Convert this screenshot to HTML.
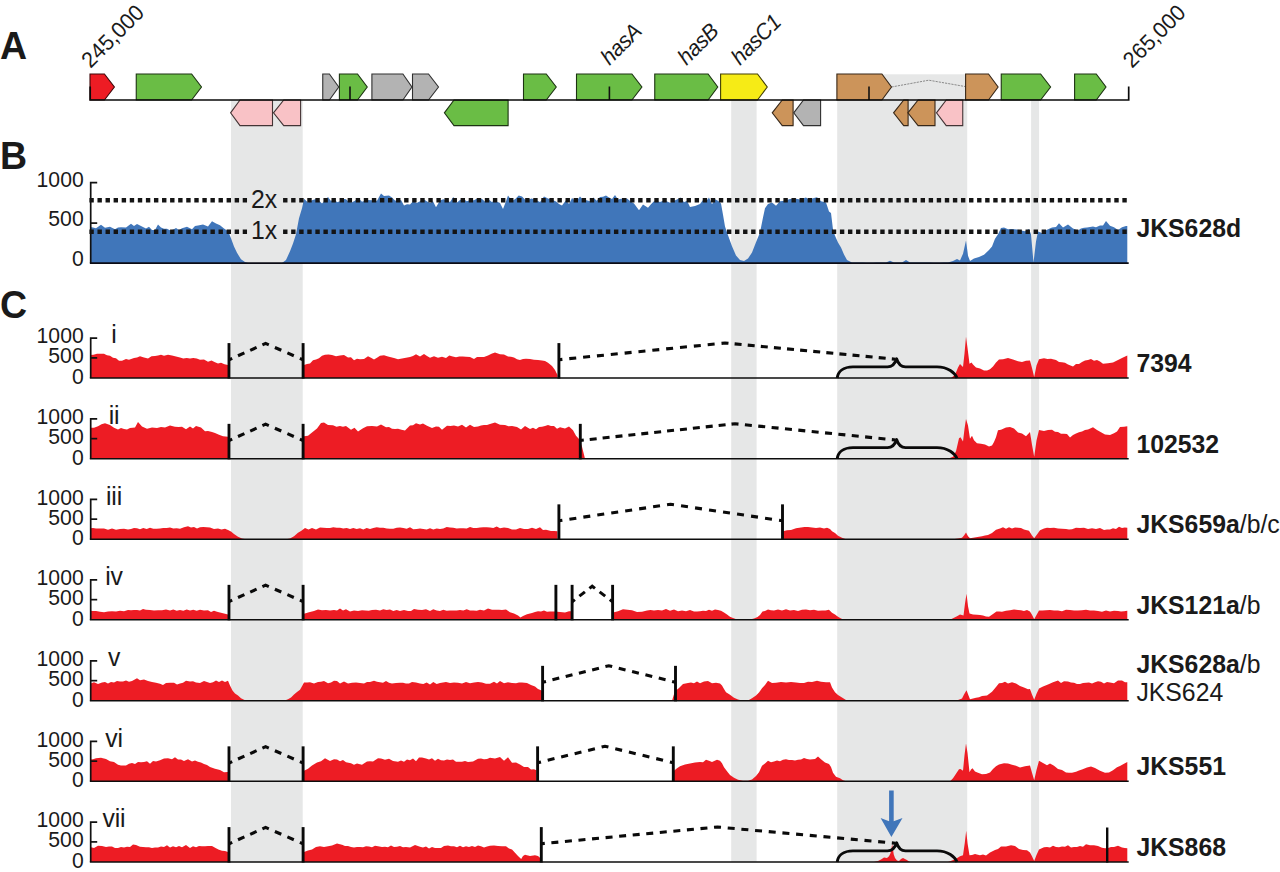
<!DOCTYPE html>
<html lang="en">
<head>
<meta charset="utf-8">
<title>Figure</title>
<style>
html,body{margin:0;padding:0;background:#fff;}
body{width:1280px;height:872px;overflow:hidden;}
svg{display:block;}
</style>
</head>
<body>
<svg width="1280" height="872" viewBox="0 0 1280 872" font-family='"Liberation Sans", Arial, Helvetica, sans-serif' fill="#1a1a1a">
<rect width="1280" height="872" fill="#fff"/>
<g fill="#E6E7E7">
<rect x="231" y="100" width="71.7" height="762"/>
<rect x="731.2" y="100" width="25.4" height="762"/>
<rect x="837.2" y="74.3" width="130" height="787.7"/>
<rect x="1031.1" y="100" width="8" height="762"/>
</g>
<g>
<path d="M891.5,87L928.8,80.2L965.6,86.6" fill="none" stroke="#8a8a8a" stroke-width="1" stroke-dasharray="2.2 1"/>
<path d="M90.00,74.00L104.40,74.00L114.40,87.00L104.40,100.00L90.00,100.00Z" fill="#ED1C24" stroke="#3f0709" stroke-width="1.1" stroke-linejoin="miter"/>
<path d="M136.25,74.00L191.60,74.00L201.50,87.00L191.60,100.00L136.25,100.00Z" fill="#6ABD45" stroke="#1c3312" stroke-width="1.1" stroke-linejoin="miter"/>
<path d="M272.50,100.00L240.00,100.00L230.60,112.80L240.00,125.60L272.50,125.60Z" fill="#F9C2C6" stroke="#433435" stroke-width="1.1" stroke-linejoin="miter"/>
<path d="M300.60,100.00L283.75,100.00L273.50,112.80L283.75,125.60L300.60,125.60Z" fill="#F9C2C6" stroke="#433435" stroke-width="1.1" stroke-linejoin="miter"/>
<path d="M322.75,74.00L329.40,74.00L338.75,87.00L329.40,100.00L322.75,100.00Z" fill="#B3B3B3" stroke="#303030" stroke-width="1.1" stroke-linejoin="miter"/>
<path d="M339.40,74.00L357.50,74.00L367.25,87.00L357.50,100.00L339.40,100.00Z" fill="#6ABD45" stroke="#1c3312" stroke-width="1.1" stroke-linejoin="miter"/>
<path d="M350.00,86.5V100" stroke="#111" stroke-width="1.6" fill="none"/>
<path d="M371.90,74.00L402.90,74.00L411.90,87.00L402.90,100.00L371.90,100.00Z" fill="#B3B3B3" stroke="#303030" stroke-width="1.1" stroke-linejoin="miter"/>
<path d="M412.50,74.00L428.50,74.00L438.50,87.00L428.50,100.00L412.50,100.00Z" fill="#B3B3B3" stroke="#303030" stroke-width="1.1" stroke-linejoin="miter"/>
<path d="M508.10,100.00L454.00,100.00L444.40,112.80L454.00,125.60L508.10,125.60Z" fill="#6ABD45" stroke="#1c3312" stroke-width="1.1" stroke-linejoin="miter"/>
<path d="M523.50,74.00L546.25,74.00L556.25,87.00L546.25,100.00L523.50,100.00Z" fill="#6ABD45" stroke="#1c3312" stroke-width="1.1" stroke-linejoin="miter"/>
<path d="M576.50,74.00L631.90,74.00L641.90,87.00L631.90,100.00L576.50,100.00Z" fill="#6ABD45" stroke="#1c3312" stroke-width="1.1" stroke-linejoin="miter"/>
<path d="M609.40,86.5V100" stroke="#111" stroke-width="1.6" fill="none"/>
<path d="M654.75,74.00L708.10,74.00L717.75,87.00L708.10,100.00L654.75,100.00Z" fill="#6ABD45" stroke="#1c3312" stroke-width="1.1" stroke-linejoin="miter"/>
<path d="M720.60,74.00L757.50,74.00L767.25,87.00L757.50,100.00L720.60,100.00Z" fill="#F6EB16" stroke="#423f05" stroke-width="1.1" stroke-linejoin="miter"/>
<path d="M793.10,100.00L782.25,100.00L772.25,112.80L782.25,125.60L793.10,125.60Z" fill="#CC945A" stroke="#372718" stroke-width="1.1" stroke-linejoin="miter"/>
<path d="M820.60,100.00L803.50,100.00L793.75,112.80L803.50,125.60L820.60,125.60Z" fill="#B3B3B3" stroke="#303030" stroke-width="1.1" stroke-linejoin="miter"/>
<path d="M836.90,74.00L881.90,74.00L891.50,87.00L881.90,100.00L836.90,100.00Z" fill="#CC945A" stroke="#372718" stroke-width="1.1" stroke-linejoin="miter"/>
<path d="M869.00,86.5V100" stroke="#111" stroke-width="1.6" fill="none"/>
<path d="M908.10,100.00L903.75,100.00L893.60,112.80L903.75,125.60L908.10,125.60Z" fill="#CC945A" stroke="#372718" stroke-width="1.1" stroke-linejoin="miter"/>
<path d="M935.00,100.00L918.10,100.00L907.90,112.80L918.10,125.60L935.00,125.60Z" fill="#CC945A" stroke="#372718" stroke-width="1.1" stroke-linejoin="miter"/>
<path d="M962.75,100.00L946.25,100.00L936.50,112.80L946.25,125.60L962.75,125.60Z" fill="#F9C2C6" stroke="#433435" stroke-width="1.1" stroke-linejoin="miter"/>
<path d="M965.60,74.00L988.50,74.00L998.10,87.00L988.50,100.00L965.60,100.00Z" fill="#CC945A" stroke="#372718" stroke-width="1.1" stroke-linejoin="miter"/>
<path d="M1001.25,74.00L1040.60,74.00L1050.60,87.00L1040.60,100.00L1001.25,100.00Z" fill="#6ABD45" stroke="#1c3312" stroke-width="1.1" stroke-linejoin="miter"/>
<path d="M1074.60,74.00L1096.25,74.00L1106.00,87.00L1096.25,100.00L1074.60,100.00Z" fill="#6ABD45" stroke="#1c3312" stroke-width="1.1" stroke-linejoin="miter"/>
<path d="M90.2,86.5V100H1128.7V86.5" fill="none" stroke="#0a0a0a" stroke-width="1.7"/>
</g>
<text transform="translate(90.5,69.0) rotate(-45) scale(1,1.035)" font-size="21.5">245,000</text>
<text transform="translate(609.5,66.0) rotate(-45) scale(1,1.035)" font-size="21.5" font-style="italic" letter-spacing="-0.45">hasA</text>
<text transform="translate(686.5,66.0) rotate(-45) scale(1,1.035)" font-size="21.5" font-style="italic" letter-spacing="-0.45">hasB</text>
<text transform="translate(740.0,66.0) rotate(-45) scale(1,1.035)" font-size="21.5" font-style="italic" letter-spacing="-0.45">hasC1</text>
<text transform="translate(1132.0,69.0) rotate(-45) scale(1,1.035)" font-size="21.5">265,000</text>
<text transform="translate(0,58.5) scale(1,1.02)" font-size="37.5" font-weight="bold">A</text>
<text transform="translate(0,168.5) scale(1,1.02)" font-size="37.5" font-weight="bold">B</text>
<text transform="translate(0,318.1) scale(1,1.02)" font-size="37.5" font-weight="bold">C</text>
<path d="M90.0,263.0L90.0,227.0L93.0,227.5L96.0,228.2L101.0,224.7L105.0,227.7L110.0,226.7L115.0,229.2L118.0,227.6L121.0,227.2L126.0,227.4L131.0,223.8L134.0,226.1L137.0,224.0L141.0,225.9L146.0,228.5L149.0,226.8L152.0,230.1L155.0,230.0L158.0,224.6L161.0,227.5L164.0,228.7L167.0,228.7L170.0,230.3L173.0,229.8L176.0,227.9L179.0,230.0L182.0,228.3L187.0,226.8L192.0,229.3L195.0,226.0L198.0,225.4L203.0,224.6L208.0,226.6L212.0,221.2L216.0,223.4L220.0,225.3L224.0,228.5L227.0,230.5L229.0,233.2L231.0,238.3L234.0,246.5L237.0,252.8L241.0,259.3L245.0,262.0L248.0,263.0L251.4,263.0L254.8,263.0L258.2,263.0L261.6,263.0L265.0,263.0L268.4,263.0L271.8,263.0L275.2,263.0L278.6,263.0L282.0,263.0L286.0,260.0L290.0,251.3L293.0,243.4L296.0,234.2L299.0,218.3L302.0,208.3L304.0,198.8L308.0,202.5L312.0,200.3L317.0,198.7L322.0,203.5L325.0,200.2L328.0,197.0L331.0,201.0L334.0,198.3L337.0,202.2L340.0,201.2L343.0,198.8L346.0,199.2L349.0,201.9L352.0,202.3L355.0,200.7L358.0,197.8L362.0,201.8L367.0,199.9L372.0,200.3L377.0,200.7L381.0,193.4L384.0,196.0L389.0,195.5L392.0,197.6L395.0,200.4L398.0,201.1L401.0,200.0L404.0,205.4L407.0,204.3L410.0,204.5L413.3,200.9L416.7,203.0L420.0,201.3L423.3,199.0L426.7,201.3L430.0,203.1L433.0,201.3L436.0,207.3L440.0,200.4L443.3,199.3L446.7,200.3L450.0,201.9L453.3,196.9L456.7,202.7L460.0,199.9L463.3,198.8L466.7,201.3L470.0,200.3L474.0,200.3L478.0,198.1L482.0,199.1L485.2,201.8L488.5,199.3L491.8,201.9L495.0,200.7L500.0,203.1L503.0,208.9L506.0,201.2L508.0,195.6L512.0,201.1L515.3,199.0L518.7,195.4L522.0,196.5L525.0,199.4L528.0,199.8L531.5,198.5L535.0,199.6L540.0,202.0L544.0,196.5L548.0,198.6L552.0,199.7L556.0,201.5L559.0,204.1L562.0,205.4L566.0,200.3L569.0,203.9L572.0,197.9L576.0,201.6L580.0,196.6L583.3,200.0L586.7,200.3L590.0,201.2L593.3,197.4L596.7,200.7L600.0,197.0L603.0,196.7L606.0,195.5L609.0,197.6L612.0,199.0L615.0,195.1L618.0,199.5L621.0,198.7L624.0,198.6L627.0,198.5L630.0,201.1L634.0,203.6L639.0,210.3L643.0,204.5L648.0,207.8L651.0,204.3L654.0,201.3L657.0,201.1L660.0,201.9L663.3,200.8L666.7,201.3L670.0,202.7L673.5,200.9L677.0,199.6L680.5,197.4L684.0,202.2L687.0,200.8L690.0,207.1L695.0,206.0L700.0,204.0L703.0,200.0L706.0,201.5L709.0,197.5L712.0,204.3L715.0,199.3L718.0,200.7L721.0,203.4L723.0,214.7L725.0,226.4L728.0,235.3L732.0,246.3L736.0,255.5L740.0,260.0L744.0,261.0L748.0,258.6L752.0,252.5L756.0,242.3L760.0,232.6L763.0,217.5L765.0,208.2L768.0,204.1L772.0,202.4L776.0,205.8L780.0,201.3L785.0,200.8L790.0,199.1L795.0,198.4L800.0,199.4L803.0,198.4L806.0,197.4L809.0,199.8L812.0,198.6L817.0,197.3L821.0,201.2L826.0,202.4L829.0,211.5L831.0,212.9L833.0,229.5L835.0,235.8L838.0,242.6L841.0,247.4L844.0,254.5L847.0,260.0L852.0,262.5L855.6,262.5L859.2,262.6L862.8,262.6L866.4,262.7L870.0,262.7L873.2,262.7L876.4,262.6L879.6,262.6L882.8,262.5L886.0,262.5L890.0,260.8L894.0,262.5L898.0,262.5L902.0,262.5L906.0,260.0L910.0,262.5L913.3,262.5L916.7,262.5L920.0,262.6L923.3,262.6L926.7,262.6L930.0,262.6L933.3,262.7L936.7,262.7L940.0,262.7L944.0,262.6L948.0,262.4L953.0,261.0L957.0,259.1L960.0,260.5L963.0,253.7L966.0,240.6L968.0,255.7L970.0,261.0L974.0,258.4L979.0,257.1L984.0,254.7L989.0,249.9L992.0,246.4L995.0,238.7L998.0,234.2L1001.0,228.1L1004.0,227.6L1008.0,229.2L1012.0,228.9L1017.0,229.6L1021.0,230.6L1025.0,231.2L1029.0,229.0L1031.0,234.2L1033.5,262.5L1036.0,241.6L1038.0,231.4L1042.0,232.9L1047.0,229.8L1052.0,227.6L1056.0,227.0L1059.0,223.2L1063.0,227.6L1068.0,224.6L1073.0,228.4L1078.0,230.5L1081.0,228.4L1084.0,227.8L1087.0,227.6L1090.0,227.0L1093.0,226.6L1096.0,227.2L1100.0,225.6L1103.0,225.6L1106.0,220.9L1110.0,225.7L1114.0,227.2L1118.0,230.1L1122.0,227.2L1126.0,226.0L1127.3,226.0L1127.3,263.0Z" fill="#4076BA"/>
<path d="M97.2,182.6H90.7V263.1" fill="none" stroke="#111" stroke-width="1.7"/>
<path d="M90.7,223.1H97.2" stroke="#111" stroke-width="1.7"/>
<path d="M89.85,263.1H1128.7" stroke="#0b0b14" stroke-width="1.7"/>
<path d="M89.4,200.2 H1128" stroke="#141414" stroke-width="4.4" stroke-dasharray="4.4 3.67" fill="none"/>
<rect x="247.2" y="197.2" width="35.5" height="6" fill="#E6E7E7"/>
<path d="M89.4,231.7 H1128" stroke="#141414" stroke-width="4.4" stroke-dasharray="4.4 3.67" fill="none"/>
<rect x="247.2" y="228.7" width="35.5" height="6" fill="#E6E7E7"/>
<text transform="translate(251,207.6) scale(1,1.05)" font-size="24.8">2x</text>
<text transform="translate(251,238.9) scale(1,1.05)" font-size="24.8">1x</text>
<text transform="translate(83.7,187.00) scale(1,1.035)" font-size="21.2" text-anchor="end">1000</text>
<text transform="translate(83.7,226.00) scale(1,1.035)" font-size="21.2" text-anchor="end">500</text>
<text transform="translate(83.7,265.70) scale(1,1.035)" font-size="21.2" text-anchor="end">0</text>
<text transform="translate(1136.4,236.50) scale(1,1.035)" font-size="24.8"><tspan font-weight="bold">JKS628d</tspan></text>
<g>
<path d="M90.0,378.0L90.0,355.0L93.5,354.8L97.0,353.7L100.5,353.8L104.0,353.8L107.0,355.2L110.0,355.8L113.0,357.8L116.0,358.3L119.0,360.7L122.0,360.7L126.0,359.0L129.0,359.8L134.0,357.9L137.0,357.5L140.0,356.3L144.0,357.6L148.0,358.5L151.5,356.2L155.0,356.0L158.0,355.6L161.0,354.8L164.0,355.7L168.0,354.7L172.0,355.5L176.0,356.6L180.0,357.6L183.3,358.6L186.7,358.0L190.0,358.4L193.3,358.1L196.7,358.6L200.0,359.8L204.0,359.4L208.0,361.8L211.5,360.6L215.0,362.3L218.0,363.5L221.0,362.8L224.5,364.2L228.0,365.0L228.0,378.0Z" fill="#ED1C24"/>
<path d="M304.0,378.0L304.0,365.0L307.0,364.0L310.0,363.6L313.0,360.3L316.0,359.4L319.0,358.3L322.0,355.8L325.0,354.7L328.5,354.6L332.0,355.1L336.0,356.3L340.0,355.5L344.0,355.1L348.0,357.6L351.0,357.2L354.0,360.3L357.0,358.8L360.0,359.3L364.0,359.1L368.0,356.3L371.0,357.7L374.0,359.6L377.0,357.7L380.0,355.7L384.0,355.2L388.0,356.6L391.0,357.3L394.0,358.0L398.0,359.2L402.0,358.6L406.0,357.8L410.0,357.0L413.0,356.1L416.0,354.3L420.0,356.5L424.0,353.9L427.0,356.0L430.0,357.8L434.0,356.2L438.0,357.8L442.0,356.8L446.0,357.9L449.3,355.4L452.7,356.6L456.0,357.3L459.3,356.6L462.7,356.4L466.0,356.8L470.0,357.0L474.0,359.0L477.0,356.9L480.0,357.1L484.0,356.9L488.0,355.6L491.5,353.8L495.0,352.5L500.0,354.2L504.0,354.5L508.0,356.6L511.0,356.8L514.0,357.4L517.0,359.2L520.0,359.9L523.0,359.0L526.0,358.7L530.0,359.0L534.0,359.8L538.0,360.0L542.0,360.5L545.0,361.0L548.0,362.7L552.0,366.1L555.0,370.0L557.5,375.0L557.5,378.0Z" fill="#ED1C24"/>
<path d="M951.0,378.0L951.0,378.0L955.0,375.0L958.0,367.4L960.0,364.1L963.0,366.9L964.5,353.4L966.0,336.8L967.5,347.9L969.5,363.8L971.5,362.5L973.0,364.6L976.0,367.5L980.0,368.4L984.0,370.5L987.0,370.4L990.0,369.2L993.0,366.6L996.0,362.4L999.0,359.5L1003.0,359.2L1008.0,358.0L1013.0,359.4L1018.0,361.2L1022.0,362.1L1026.0,360.8L1030.0,360.4L1032.0,368.0L1034.2,377.0L1036.5,365.4L1039.0,359.3L1044.0,358.2L1047.5,358.9L1051.0,358.7L1056.0,360.0L1059.0,361.9L1062.0,362.2L1065.0,362.8L1068.0,364.5L1073.0,366.5L1076.0,364.1L1079.0,363.9L1082.0,362.1L1085.0,360.4L1088.0,360.0L1091.0,359.0L1094.0,360.7L1097.0,359.9L1100.0,361.6L1103.0,363.7L1108.0,363.2L1113.0,362.5L1118.0,360.1L1123.0,357.5L1127.3,355.5L1127.3,378.0Z" fill="#ED1C24"/>
<path d="M97.2,338.10H90.7V378.00" fill="none" stroke="#111" stroke-width="1.7"/>
<path d="M90.7,357.90H97.2" stroke="#111" stroke-width="1.7"/>
<path d="M89.85,378.00H1128.7" stroke="#0d0d0d" stroke-width="1.7"/>
<path d="M229.00,359.80L265.60,343.40L303.10,359.80" fill="none" stroke="#0a0a0a" stroke-width="3.1" stroke-linejoin="miter" stroke-dasharray="3.500 6.369 7.000 6.369 7.000 6.369 7.000 6.643 7.000 6.643 7.000 6.643 3.500 0.000"/>
<path d="M558.90,359.70L725.00,343.00L895.30,359.20" fill="none" stroke="#0a0a0a" stroke-width="3.1" stroke-linejoin="miter" stroke-dasharray="3.500 6.911 7.000 6.911 7.000 6.911 7.000 6.911 7.000 6.911 7.000 6.911 7.000 6.911 7.000 6.911 7.000 6.911 7.000 6.911 7.000 6.911 7.000 6.911 7.000 6.159 7.000 6.159 7.000 6.159 7.000 6.159 7.000 6.159 7.000 6.159 7.000 6.159 7.000 6.159 7.000 6.159 7.000 6.159 7.000 6.159 7.000 6.159 7.000 6.159 3.500 0.000"/>
<path d="M837.2,378.00 C838,372.00 843,366.90 853,366.90 H887.5 C892,366.90 895,364.00 896.6,358.80 C898.2,364.00 901,366.90 905.5,366.90 H937 C948,366.90 955,373.00 957,378.00" fill="none" stroke="#0a0a0a" stroke-width="2.9" stroke-linejoin="round"/>
<path d="M229.00,343.10V378.60" stroke="#0a0a0a" stroke-width="2.9" fill="none"/>
<path d="M303.10,343.10V378.60" stroke="#0a0a0a" stroke-width="2.9" fill="none"/>
<path d="M558.90,343.10V378.60" stroke="#0a0a0a" stroke-width="2.9" fill="none"/>
<text transform="translate(83.7,343.30) scale(1,1.035)" font-size="21.2" text-anchor="end">1000</text>
<text transform="translate(83.7,363.30) scale(1,1.035)" font-size="21.2" text-anchor="end">500</text>
<text transform="translate(83.7,383.80) scale(1,1.035)" font-size="21.2" text-anchor="end">0</text>
<text transform="translate(114,343.40) scale(1,1.05)" font-size="24.8" letter-spacing="-0.2" text-anchor="middle">i</text>
<text transform="translate(1136.4,372.00) scale(1,1.035)" font-size="24.8"><tspan font-weight="bold">7394</tspan></text>
</g>
<g>
<path d="M90.0,458.8L90.0,427.8L94.0,427.8L98.0,426.2L101.5,424.2L105.0,423.2L110.0,425.0L114.0,427.8L118.0,429.6L121.0,428.1L124.0,429.1L127.0,429.4L130.0,428.0L135.0,427.5L138.0,422.0L142.0,426.4L147.0,428.8L152.0,427.5L157.0,428.0L161.0,426.9L165.0,427.6L170.0,425.4L175.0,426.8L178.5,426.9L182.0,426.8L186.0,429.2L190.0,426.6L193.0,428.4L196.0,426.0L201.0,427.5L205.0,431.2L208.0,431.0L212.0,432.0L215.0,432.9L219.0,434.7L223.0,436.2L228.0,436.8L228.0,458.8Z" fill="#ED1C24"/>
<path d="M304.0,458.8L304.0,436.2L308.0,435.8L312.0,432.6L317.0,428.6L321.0,423.1L324.0,422.4L328.0,425.0L333.0,425.2L336.5,426.7L340.0,426.0L343.0,426.7L346.0,426.1L351.0,429.8L354.5,427.7L358.0,431.5L363.0,428.2L367.0,426.3L372.0,426.1L377.0,426.6L381.0,424.4L386.0,427.3L389.0,426.9L392.0,428.8L395.0,429.0L398.0,428.7L401.5,429.8L405.0,430.5L410.0,425.6L413.0,425.3L416.0,423.3L420.0,424.5L423.0,423.4L427.0,425.8L432.0,427.9L436.0,426.4L439.0,426.8L442.0,429.7L447.0,425.7L450.5,425.9L454.0,425.6L458.0,426.6L462.0,424.7L466.0,427.5L470.0,424.8L474.0,427.1L478.0,426.4L481.0,425.6L484.0,425.1L487.0,425.0L490.0,424.0L495.0,422.5L500.0,424.7L505.0,425.1L508.5,426.3L512.0,426.1L517.0,426.9L521.0,429.6L525.0,425.9L530.0,428.9L533.0,427.7L536.0,429.2L539.0,427.1L542.0,426.8L545.0,425.9L548.0,425.1L551.0,426.0L554.0,426.1L557.0,428.8L560.0,427.2L565.0,428.5L569.0,426.6L573.0,430.3L576.0,435.7L579.0,439.0L582.0,446.8L585.0,458.8L585.0,458.8Z" fill="#ED1C24"/>
<path d="M948.0,458.8L948.0,458.8L953.0,456.8L956.0,451.2L959.0,438.2L960.5,437.2L963.0,441.5L964.5,428.9L966.0,419.0L968.0,425.4L970.0,438.8L972.0,435.8L974.0,440.3L977.0,443.2L981.0,443.7L985.0,444.6L989.0,446.6L992.0,445.5L994.0,442.1L996.0,437.3L998.0,430.2L1001.0,429.8L1006.0,427.5L1010.0,427.0L1014.0,428.6L1018.0,432.5L1022.0,433.4L1026.0,436.2L1030.0,432.0L1032.0,444.8L1034.2,456.8L1036.5,440.4L1039.0,430.1L1044.0,430.9L1048.0,429.9L1052.0,429.7L1055.0,431.7L1058.0,432.1L1061.0,433.7L1064.0,433.8L1067.0,434.1L1070.0,437.4L1073.0,435.1L1076.0,433.5L1079.0,432.3L1082.0,431.5L1085.0,430.0L1088.0,429.5L1093.0,427.2L1097.0,430.1L1101.0,432.3L1105.0,434.6L1110.0,434.9L1114.0,433.2L1117.0,431.4L1120.0,427.1L1124.0,426.8L1127.3,426.2L1127.3,458.8Z" fill="#ED1C24"/>
<path d="M97.2,418.85H90.7V458.75" fill="none" stroke="#111" stroke-width="1.7"/>
<path d="M90.7,438.65H97.2" stroke="#111" stroke-width="1.7"/>
<path d="M89.85,458.75H1128.7" stroke="#0d0d0d" stroke-width="1.7"/>
<path d="M229.00,440.55L265.60,424.15L303.10,440.55" fill="none" stroke="#0a0a0a" stroke-width="3.1" stroke-linejoin="miter" stroke-dasharray="3.500 6.369 7.000 6.369 7.000 6.369 7.000 6.643 7.000 6.643 7.000 6.643 3.500 0.000"/>
<path d="M580.30,440.45L735.00,423.75L895.30,439.95" fill="none" stroke="#0a0a0a" stroke-width="3.1" stroke-linejoin="miter" stroke-dasharray="3.500 5.967 7.000 5.967 7.000 5.967 7.000 5.967 7.000 5.967 7.000 5.967 7.000 5.967 7.000 5.967 7.000 5.967 7.000 5.967 7.000 5.967 7.000 5.967 7.000 6.426 7.000 6.426 7.000 6.426 7.000 6.426 7.000 6.426 7.000 6.426 7.000 6.426 7.000 6.426 7.000 6.426 7.000 6.426 7.000 6.426 7.000 6.426 3.500 0.000"/>
<path d="M837.2,458.75 C838,452.75 843,447.65 853,447.65 H887.5 C892,447.65 895,444.75 896.6,439.55 C898.2,444.75 901,447.65 905.5,447.65 H937 C948,447.65 955,453.75 957,458.75" fill="none" stroke="#0a0a0a" stroke-width="2.9" stroke-linejoin="round"/>
<path d="M229.00,423.85V459.35" stroke="#0a0a0a" stroke-width="2.9" fill="none"/>
<path d="M303.10,423.85V459.35" stroke="#0a0a0a" stroke-width="2.9" fill="none"/>
<path d="M580.30,423.85V459.35" stroke="#0a0a0a" stroke-width="2.9" fill="none"/>
<text transform="translate(83.7,424.05) scale(1,1.035)" font-size="21.2" text-anchor="end">1000</text>
<text transform="translate(83.7,444.05) scale(1,1.035)" font-size="21.2" text-anchor="end">500</text>
<text transform="translate(83.7,464.55) scale(1,1.035)" font-size="21.2" text-anchor="end">0</text>
<text transform="translate(114,424.15) scale(1,1.05)" font-size="24.8" letter-spacing="-0.2" text-anchor="middle">ii</text>
<text transform="translate(1136.4,452.75) scale(1,1.035)" font-size="24.8"><tspan font-weight="bold">102532</tspan></text>
</g>
<g>
<path d="M90.0,539.2L90.0,528.2L93.0,528.0L96.0,528.4L100.0,528.4L104.0,528.4L108.0,529.7L112.0,528.4L116.0,529.7L120.0,529.1L124.0,528.8L128.0,529.6L131.0,528.9L134.0,527.9L137.0,528.3L140.0,529.2L143.3,527.9L146.7,529.0L150.0,527.7L153.3,528.8L156.7,528.8L160.0,528.4L163.3,528.0L166.7,528.1L170.0,527.5L173.3,528.6L176.7,528.3L180.0,528.7L184.0,527.3L188.0,526.3L191.0,527.6L194.0,527.1L197.0,528.4L200.0,527.3L203.3,527.1L206.7,527.3L210.0,527.4L214.0,528.9L218.0,528.4L221.5,529.5L225.0,528.7L228.0,529.9L231.0,531.5L234.0,534.1L238.0,536.8L242.0,538.5L246.0,539.2L249.3,539.2L252.7,539.2L256.0,539.2L259.3,539.2L262.7,539.2L266.0,539.2L269.3,539.2L272.7,539.2L276.0,539.2L279.3,539.2L282.7,539.2L286.0,539.2L290.0,538.5L294.0,536.2L298.0,532.8L301.0,531.0L305.0,527.9L308.5,529.4L312.0,527.9L316.0,529.5L320.0,527.5L323.3,527.8L326.7,527.9L330.0,527.9L333.3,527.3L336.7,527.7L340.0,527.8L343.3,528.5L346.7,528.0L350.0,529.1L353.3,528.0L356.7,529.0L360.0,528.3L363.3,529.5L366.7,528.1L370.0,529.0L373.3,528.0L376.7,527.2L380.0,527.7L383.3,527.7L386.7,528.4L390.0,528.7L393.3,528.7L396.7,527.8L400.0,527.5L403.3,528.0L406.7,528.7L410.0,527.3L413.3,529.2L416.7,528.9L420.0,528.6L423.3,529.0L426.7,529.5L430.0,528.2L433.3,529.5L436.7,528.4L440.0,529.0L443.3,528.5L446.7,527.1L450.0,527.4L453.3,527.8L456.7,528.6L460.0,528.2L463.3,528.3L466.7,528.4L470.0,527.1L473.3,528.0L476.7,528.0L480.0,527.4L483.3,527.3L486.7,527.3L490.0,527.4L493.3,528.0L496.7,526.6L500.0,528.2L504.0,527.4L508.0,528.1L512.0,529.4L516.0,529.6L520.0,528.1L524.0,528.9L528.0,528.9L532.0,527.8L536.0,528.9L540.0,527.2L543.0,529.9L546.0,529.8L551.0,531.1L554.2,531.0L557.5,531.2L557.5,539.2Z" fill="#ED1C24"/>
<path d="M783.0,539.2L783.0,531.2L787.0,530.2L791.0,529.9L796.0,528.2L801.0,527.6L804.5,527.0L808.0,526.9L812.0,527.4L816.0,527.9L820.0,527.6L824.0,528.5L827.0,527.8L830.0,528.9L832.0,531.2L835.0,533.0L838.0,535.8L842.0,537.8L846.0,539.2L846.0,539.2Z" fill="#ED1C24"/>
<path d="M953.0,539.2L953.0,539.2L958.0,538.5L962.0,537.8L964.0,535.5L966.0,532.4L968.0,536.2L970.0,538.2L973.0,537.8L976.0,537.2L979.0,536.8L982.0,536.2L985.0,535.6L988.0,535.0L992.0,532.9L996.0,529.8L1000.0,528.6L1003.0,527.3L1006.0,528.8L1009.0,527.2L1012.0,528.4L1015.0,527.5L1018.0,527.7L1021.0,528.0L1024.0,529.4L1029.0,530.7L1032.0,535.6L1034.2,538.2L1037.0,534.5L1040.0,530.2L1044.0,528.5L1047.0,527.8L1050.0,528.1L1054.0,527.8L1058.0,528.6L1062.0,528.7L1066.0,529.0L1069.0,529.6L1072.0,529.2L1076.0,527.7L1080.0,528.1L1084.0,527.8L1088.0,528.9L1092.0,528.2L1096.0,528.9L1100.0,528.0L1104.0,530.1L1107.0,529.4L1110.0,529.6L1113.0,528.2L1116.0,529.0L1119.0,526.7L1122.0,528.0L1124.7,527.5L1127.3,527.8L1127.3,539.2Z" fill="#ED1C24"/>
<path d="M97.2,499.35H90.7V539.25" fill="none" stroke="#111" stroke-width="1.7"/>
<path d="M90.7,519.15H97.2" stroke="#111" stroke-width="1.7"/>
<path d="M89.85,539.25H1128.7" stroke="#0d0d0d" stroke-width="1.7"/>
<path d="M558.90,520.75L670.50,504.25L782.50,520.75" fill="none" stroke="#0a0a0a" stroke-width="3.1" stroke-linejoin="miter" stroke-dasharray="3.500 7.102 7.000 7.102 7.000 7.102 7.000 7.102 7.000 7.102 7.000 7.102 7.000 7.102 7.000 7.102 7.000 7.151 7.000 7.151 7.000 7.151 7.000 7.151 7.000 7.151 7.000 7.151 7.000 7.151 7.000 7.151 3.500 0.000"/>
<path d="M558.90,504.35V539.85" stroke="#0a0a0a" stroke-width="2.9" fill="none"/>
<path d="M782.50,504.35V539.85" stroke="#0a0a0a" stroke-width="2.9" fill="none"/>
<text transform="translate(83.7,504.55) scale(1,1.035)" font-size="21.2" text-anchor="end">1000</text>
<text transform="translate(83.7,524.55) scale(1,1.035)" font-size="21.2" text-anchor="end">500</text>
<text transform="translate(83.7,545.05) scale(1,1.035)" font-size="21.2" text-anchor="end">0</text>
<text transform="translate(114,504.65) scale(1,1.05)" font-size="24.8" letter-spacing="-0.2" text-anchor="middle">iii</text>
<text transform="translate(1136.4,533.25) scale(1,1.035)" font-size="24.8"><tspan font-weight="bold">JKS659a</tspan>/b/c</text>
</g>
<g>
<path d="M90.0,619.8L90.0,610.8L93.0,611.0L96.0,611.1L100.0,611.8L104.0,612.3L108.0,611.6L112.0,611.2L116.0,611.5L120.0,610.7L124.0,611.2L128.0,610.1L131.0,610.2L134.0,610.0L137.0,609.9L140.0,610.4L143.0,609.0L146.0,609.8L150.0,609.9L154.0,610.5L158.0,610.2L162.0,610.3L166.0,609.4L170.0,610.4L173.3,609.4L176.7,610.8L180.0,610.1L183.3,610.8L186.7,609.5L190.0,610.4L193.3,609.8L196.7,610.8L200.0,609.7L204.0,610.6L208.0,610.3L211.0,611.9L214.0,610.8L217.0,611.8L220.0,612.4L224.0,613.5L228.0,614.5L228.0,619.8Z" fill="#ED1C24"/>
<path d="M304.0,619.8L304.0,613.8L309.0,612.2L314.0,610.9L318.0,609.5L322.0,610.2L326.0,609.9L330.0,610.6L334.0,610.0L337.0,610.5L340.0,608.5L343.0,610.6L346.0,609.3L350.0,611.5L354.0,610.4L358.0,610.9L362.0,610.3L365.3,610.5L368.7,610.8L372.0,609.9L376.0,609.8L380.0,610.6L383.3,609.3L386.7,610.0L390.0,609.6L393.3,611.0L396.7,609.9L400.0,611.1L404.0,610.1L408.0,610.9L411.0,611.1L414.0,609.0L418.0,609.8L422.0,610.1L426.0,609.2L430.0,611.1L433.3,609.3L436.7,610.6L440.0,610.9L443.3,609.7L446.7,610.8L450.0,610.6L453.3,610.5L456.7,610.6L460.0,610.0L463.3,610.4L466.7,609.3L470.0,610.5L473.3,610.4L476.7,610.7L480.0,609.7L484.0,610.6L488.0,608.4L492.0,609.8L496.0,609.8L499.0,609.8L502.0,610.1L506.0,609.5L510.0,612.3L514.0,613.4L518.0,615.6L520.5,617.5L523.0,616.0L527.0,614.2L532.0,612.9L535.0,612.1L538.0,611.2L541.0,611.6L544.0,610.6L547.0,611.7L550.0,611.5L555.0,611.4L560.0,611.9L565.0,612.6L569.0,611.2L571.5,611.2L571.5,619.8Z" fill="#ED1C24"/>
<path d="M613.0,619.8L613.0,612.5L618.0,611.2L623.0,609.3L627.5,609.7L632.0,610.3L637.0,611.9L642.0,611.8L647.0,610.4L650.5,610.1L654.0,610.5L658.0,609.9L662.0,610.6L666.0,609.1L670.0,610.7L674.0,609.4L678.0,611.2L682.0,610.5L686.0,611.3L690.0,610.1L694.0,611.4L697.0,611.4L700.0,611.3L703.0,610.8L706.0,611.1L709.0,609.8L712.0,610.8L715.0,609.6L718.0,609.9L721.0,610.7L724.0,612.5L727.0,614.6L730.0,616.8L733.0,618.0L737.0,619.4L740.0,619.5L743.0,619.8L746.5,619.6L750.0,619.5L754.0,618.4L757.5,617.0L760.0,615.0L762.5,611.4L765.0,611.0L768.0,609.4L771.0,610.2L774.0,610.4L778.0,609.5L782.0,610.5L786.0,609.3L790.0,610.6L794.0,610.0L798.0,610.9L802.0,609.8L806.0,609.4L810.0,610.3L814.0,609.8L818.0,610.8L822.0,610.6L825.5,610.6L829.0,609.7L832.0,612.8L835.0,614.6L838.0,616.8L841.0,618.4L844.0,619.8L844.0,619.8Z" fill="#ED1C24"/>
<path d="M950.0,619.8L950.0,619.8L954.0,617.8L957.0,616.2L960.0,614.6L963.5,615.4L965.0,603.4L966.5,593.7L968.0,606.2L969.5,613.6L973.0,614.4L977.0,614.8L980.0,615.0L983.0,615.6L986.0,616.5L989.0,616.8L993.0,614.0L996.5,611.6L999.2,611.4L1002.0,611.8L1006.0,610.7L1010.0,610.3L1014.0,609.6L1018.0,610.0L1021.0,610.3L1024.0,611.1L1027.0,610.0L1030.0,611.6L1032.0,614.7L1034.2,619.2L1036.5,615.1L1039.0,610.4L1042.5,610.4L1046.0,610.3L1050.0,610.1L1054.0,610.4L1058.0,610.5L1062.0,611.2L1066.0,609.8L1070.0,610.1L1074.0,610.5L1078.0,610.4L1082.0,610.3L1086.0,609.8L1090.0,610.4L1094.0,610.6L1098.0,611.0L1102.0,611.8L1106.0,610.4L1110.0,611.5L1114.0,610.8L1118.0,611.1L1121.0,611.5L1124.0,611.2L1127.3,610.8L1127.3,619.8Z" fill="#ED1C24"/>
<path d="M97.2,579.85H90.7V619.75" fill="none" stroke="#111" stroke-width="1.7"/>
<path d="M90.7,599.65H97.2" stroke="#111" stroke-width="1.7"/>
<path d="M89.85,619.75H1128.7" stroke="#0d0d0d" stroke-width="1.7"/>
<path d="M229.00,601.55L265.60,585.15L303.10,601.55" fill="none" stroke="#0a0a0a" stroke-width="3.1" stroke-linejoin="miter" stroke-dasharray="3.500 6.369 7.000 6.369 7.000 6.369 7.000 6.643 7.000 6.643 7.000 6.643 3.500 0.000"/>
<path d="M572.10,601.75L592.20,586.25L612.60,601.75" fill="none" stroke="#0a0a0a" stroke-width="3.1" stroke-linejoin="miter" stroke-dasharray="3.500 5.691 7.000 5.691 7.000 5.810 7.000 5.810 3.500 0.000"/>
<path d="M229.00,584.85V620.35" stroke="#0a0a0a" stroke-width="2.9" fill="none"/>
<path d="M303.10,584.85V620.35" stroke="#0a0a0a" stroke-width="2.9" fill="none"/>
<path d="M555.90,584.85V620.35" stroke="#0a0a0a" stroke-width="2.9" fill="none"/>
<path d="M572.10,584.85V620.35" stroke="#0a0a0a" stroke-width="2.9" fill="none"/>
<path d="M612.60,584.85V620.35" stroke="#0a0a0a" stroke-width="2.9" fill="none"/>
<text transform="translate(83.7,585.05) scale(1,1.035)" font-size="21.2" text-anchor="end">1000</text>
<text transform="translate(83.7,605.05) scale(1,1.035)" font-size="21.2" text-anchor="end">500</text>
<text transform="translate(83.7,625.55) scale(1,1.035)" font-size="21.2" text-anchor="end">0</text>
<text transform="translate(114,585.15) scale(1,1.05)" font-size="24.8" letter-spacing="-0.2" text-anchor="middle">iv</text>
<text transform="translate(1136.4,613.75) scale(1,1.035)" font-size="24.8"><tspan font-weight="bold">JKS121a</tspan>/b</text>
</g>
<g>
<path d="M90.0,700.8L90.0,683.8L94.0,682.2L98.0,684.1L102.0,682.6L105.0,682.0L108.0,683.5L111.0,682.1L114.0,682.6L117.0,681.0L120.0,681.5L123.0,681.5L126.0,680.4L129.0,681.8L132.0,681.0L137.0,678.3L140.0,680.2L144.0,679.4L148.0,681.0L152.0,682.0L156.0,682.8L160.0,683.7L163.0,684.9L166.0,683.1L170.0,682.8L174.0,682.7L177.0,684.5L180.0,683.5L183.0,682.7L186.0,680.8L190.0,681.5L193.0,681.2L196.0,682.6L200.0,683.1L204.0,681.1L207.0,682.0L210.0,683.1L213.0,682.3L216.0,680.6L219.0,682.0L222.0,680.6L225.0,682.0L228.0,680.7L230.0,685.4L232.5,690.5L235.0,693.6L238.0,695.4L241.0,698.2L245.0,700.2L248.0,700.8L251.3,700.8L254.5,700.8L257.8,700.8L261.1,700.8L264.4,700.8L267.6,700.8L270.9,700.8L274.2,700.8L277.5,700.8L280.7,700.8L284.0,700.8L288.0,699.2L291.0,697.4L294.0,694.4L297.0,691.9L300.0,689.7L302.0,686.2L304.0,682.6L307.0,682.6L310.0,682.3L314.0,683.5L318.0,682.1L321.0,681.7L324.0,681.1L328.0,683.3L331.0,682.4L334.0,680.8L337.0,681.1L340.0,683.4L344.0,681.4L348.0,683.6L352.0,682.8L356.0,682.5L360.0,682.9L364.0,683.5L367.0,682.1L370.0,681.9L374.0,680.8L377.0,681.7L380.0,682.3L383.0,682.8L386.0,681.1L389.0,682.7L392.0,683.4L396.0,683.0L400.0,682.7L403.0,682.7L406.0,683.6L409.0,683.6L412.0,682.0L416.0,682.4L420.0,683.6L423.3,684.0L426.7,682.4L430.0,684.5L433.3,682.0L436.7,684.1L440.0,683.0L443.0,682.5L446.0,682.0L450.0,682.9L454.0,682.6L458.0,682.8L462.0,683.4L466.0,682.1L470.0,683.3L474.0,682.6L478.0,681.9L482.0,682.6L486.0,683.8L490.0,683.8L494.0,681.7L497.0,683.5L500.0,681.1L504.0,683.3L508.0,682.3L512.0,683.0L516.0,683.3L519.0,682.5L522.0,682.6L527.0,683.1L531.0,684.9L535.0,686.4L538.0,689.1L541.0,690.2L542.0,690.8L542.0,700.8Z" fill="#ED1C24"/>
<path d="M672.0,700.8L672.0,700.8L673.5,695.8L675.0,691.3L679.0,687.9L683.0,684.1L688.0,683.0L691.0,682.6L694.0,683.2L697.0,681.4L700.0,683.3L704.0,681.5L708.0,681.1L712.0,683.3L716.0,682.7L720.0,683.4L722.0,685.5L724.0,689.1L726.0,692.3L730.0,694.7L734.0,697.7L738.0,699.5L742.0,700.5L745.0,700.4L748.0,700.4L752.0,698.2L756.0,695.4L759.0,692.4L762.0,688.3L765.0,684.9L768.0,680.8L772.0,682.9L776.0,682.8L781.0,682.0L786.0,682.4L791.0,682.1L796.0,682.4L800.0,683.1L804.0,683.0L808.0,681.8L812.0,682.1L817.0,680.8L821.0,681.7L826.0,682.3L830.0,682.2L832.0,687.4L835.0,692.3L838.0,694.9L842.0,697.5L846.0,700.0L848.0,700.8L848.0,700.8Z" fill="#ED1C24"/>
<path d="M953.0,700.8L953.0,700.8L958.0,700.0L962.0,698.5L964.0,694.4L966.5,690.3L968.5,695.4L970.0,699.2L973.0,698.5L976.0,697.8L979.0,697.2L982.0,696.1L987.0,695.4L992.0,691.8L996.0,686.9L999.0,683.3L1002.0,682.9L1005.0,681.8L1008.0,683.4L1012.0,682.2L1016.0,683.4L1020.0,685.9L1024.0,687.6L1028.0,689.3L1030.0,688.9L1032.0,694.6L1034.2,699.8L1036.5,693.8L1039.0,688.5L1043.0,686.4L1048.0,684.6L1053.0,682.3L1058.0,680.6L1061.0,683.0L1064.0,681.3L1068.0,681.6L1071.0,682.5L1074.0,682.8L1077.0,684.0L1080.0,684.1L1083.0,682.9L1086.0,682.8L1089.0,682.6L1092.0,683.6L1095.0,682.2L1098.0,681.3L1101.0,681.8L1104.0,683.4L1107.0,682.1L1110.0,682.6L1114.0,683.3L1118.0,680.4L1122.0,680.6L1125.0,682.2L1127.3,682.2L1127.3,700.8Z" fill="#ED1C24"/>
<path d="M97.2,660.85H90.7V700.75" fill="none" stroke="#111" stroke-width="1.7"/>
<path d="M90.7,680.65H97.2" stroke="#111" stroke-width="1.7"/>
<path d="M89.85,700.75H1128.7" stroke="#0d0d0d" stroke-width="1.7"/>
<path d="M542.60,682.25L608.80,665.75L675.50,682.25" fill="none" stroke="#0a0a0a" stroke-width="3.1" stroke-linejoin="miter" stroke-dasharray="3.500 6.645 7.000 6.645 7.000 6.645 7.000 6.645 7.000 6.645 7.000 6.742 7.000 6.742 7.000 6.742 7.000 6.742 7.000 6.742 3.500 0.000"/>
<path d="M542.60,665.85V701.35" stroke="#0a0a0a" stroke-width="2.9" fill="none"/>
<path d="M675.50,665.85V701.35" stroke="#0a0a0a" stroke-width="2.9" fill="none"/>
<text transform="translate(83.7,666.05) scale(1,1.035)" font-size="21.2" text-anchor="end">1000</text>
<text transform="translate(83.7,686.05) scale(1,1.035)" font-size="21.2" text-anchor="end">500</text>
<text transform="translate(83.7,706.55) scale(1,1.035)" font-size="21.2" text-anchor="end">0</text>
<text transform="translate(114,666.15) scale(1,1.05)" font-size="24.8" letter-spacing="-0.2" text-anchor="middle">v</text>
<text transform="translate(1136.4,672.55) scale(1,1.035)" font-size="24.8"><tspan font-weight="bold">JKS628a</tspan>/b</text>
<text transform="translate(1136.4,700.55) scale(1,1.035)" font-size="24.8">JKS624</text>
</g>
<g>
<path d="M90.0,781.2L90.0,759.5L93.0,759.2L96.0,758.3L101.0,757.8L106.0,759.1L110.0,761.2L114.0,762.1L118.0,764.8L121.0,765.5L126.0,765.4L129.0,763.7L132.0,763.1L135.0,763.9L138.0,762.1L141.0,762.3L144.0,762.1L147.0,761.2L150.0,763.7L153.0,761.1L156.0,761.4L160.0,760.2L164.0,758.4L168.0,758.2L172.0,759.2L175.0,757.3L178.0,759.6L181.0,759.5L184.0,760.9L188.0,759.3L192.0,761.5L195.0,760.5L198.0,761.7L201.0,762.5L204.0,764.1L207.0,764.9L210.0,766.9L215.0,768.7L220.0,770.1L224.0,772.2L228.0,772.0L228.0,781.2Z" fill="#ED1C24"/>
<path d="M304.0,781.2L304.0,770.8L308.0,768.8L312.0,765.5L317.0,762.6L321.0,761.3L325.0,758.3L330.0,761.0L334.0,759.2L337.0,759.6L340.0,761.2L343.0,760.1L346.0,762.3L351.0,763.2L354.0,764.8L357.0,763.6L362.0,764.7L367.0,761.4L370.0,761.3L373.0,761.4L378.0,758.2L381.0,758.5L385.0,759.7L389.0,758.8L393.0,760.9L398.0,761.8L401.0,760.6L404.0,761.7L407.0,759.6L410.0,760.2L413.0,758.5L416.0,761.2L419.0,757.6L422.0,757.6L426.0,758.5L429.0,759.6L432.0,758.2L435.0,760.7L438.0,758.8L441.0,760.2L444.0,760.5L447.0,759.4L450.0,759.9L453.0,759.4L456.0,761.7L459.0,761.8L462.0,761.8L465.0,761.0L468.0,762.0L473.0,761.6L478.0,758.8L481.0,758.5L484.0,759.3L487.0,759.1L490.0,757.8L495.0,758.6L500.0,757.0L504.0,760.8L508.0,757.3L512.0,762.8L516.0,762.4L520.0,764.5L524.0,766.9L528.0,767.0L531.0,769.4L534.0,769.2L536.5,770.2L536.5,781.2Z" fill="#ED1C24"/>
<path d="M674.0,781.2L674.0,770.8L677.0,768.2L680.0,766.2L685.0,764.6L690.0,763.4L695.0,762.4L700.0,762.1L703.0,762.3L706.0,759.8L709.0,760.8L712.0,762.1L717.0,759.7L720.0,760.8L722.0,763.3L724.0,767.3L727.0,771.2L730.0,775.0L734.0,777.7L738.0,779.8L743.0,780.8L748.0,780.8L752.0,779.6L756.0,776.1L759.0,772.2L762.0,765.8L765.0,763.6L768.0,760.8L771.0,762.3L774.0,761.4L777.0,760.4L780.0,761.3L783.0,759.8L786.0,759.3L789.0,760.1L792.0,760.1L795.0,760.4L798.0,759.7L801.0,759.5L804.0,757.9L807.0,758.9L810.0,759.5L815.0,759.1L818.0,756.4L821.0,759.3L825.0,762.4L829.0,764.1L831.0,767.0L833.0,772.8L836.0,776.7L840.0,778.2L843.0,780.2L846.0,781.2L846.0,781.2Z" fill="#ED1C24"/>
<path d="M950.0,781.2L950.0,781.2L953.0,778.2L956.0,773.7L959.0,769.2L960.5,768.9L963.0,770.8L964.5,755.3L966.0,743.6L967.5,752.9L969.5,772.3L971.0,769.5L972.5,768.3L975.0,771.5L978.0,772.8L982.0,774.2L986.0,774.1L990.0,772.5L993.0,769.1L996.0,766.3L999.0,764.5L1004.0,763.2L1008.0,763.5L1012.0,764.8L1016.0,765.7L1020.0,767.6L1025.0,766.3L1030.0,765.4L1032.0,772.8L1034.2,780.2L1036.5,770.1L1039.0,760.8L1043.0,762.9L1047.0,765.2L1050.0,763.4L1054.0,765.7L1058.0,768.9L1062.0,770.1L1066.0,772.6L1069.0,772.8L1072.0,772.7L1076.0,771.8L1079.0,770.5L1082.0,769.6L1087.0,767.5L1091.0,766.4L1095.0,768.1L1100.0,770.8L1105.0,772.7L1109.0,772.4L1113.0,770.3L1117.0,767.3L1120.0,766.0L1124.0,763.8L1127.3,762.0L1127.3,781.2Z" fill="#ED1C24"/>
<path d="M97.2,741.35H90.7V781.25" fill="none" stroke="#111" stroke-width="1.7"/>
<path d="M90.7,761.15H97.2" stroke="#111" stroke-width="1.7"/>
<path d="M89.85,781.25H1128.7" stroke="#0d0d0d" stroke-width="1.7"/>
<path d="M229.00,763.05L265.60,746.65L303.10,763.05" fill="none" stroke="#0a0a0a" stroke-width="3.1" stroke-linejoin="miter" stroke-dasharray="3.500 6.369 7.000 6.369 7.000 6.369 7.000 6.643 7.000 6.643 7.000 6.643 3.500 0.000"/>
<path d="M537.60,762.75L605.00,746.25L673.30,762.75" fill="none" stroke="#0a0a0a" stroke-width="3.1" stroke-linejoin="miter" stroke-dasharray="3.500 6.878 7.000 6.878 7.000 6.878 7.000 6.878 7.000 6.878 7.000 7.053 7.000 7.053 7.000 7.053 7.000 7.053 7.000 7.053 3.500 0.000"/>
<path d="M229.00,746.35V781.85" stroke="#0a0a0a" stroke-width="2.9" fill="none"/>
<path d="M303.10,746.35V781.85" stroke="#0a0a0a" stroke-width="2.9" fill="none"/>
<path d="M537.60,746.35V781.85" stroke="#0a0a0a" stroke-width="2.9" fill="none"/>
<path d="M673.30,746.35V781.85" stroke="#0a0a0a" stroke-width="2.9" fill="none"/>
<text transform="translate(83.7,746.55) scale(1,1.035)" font-size="21.2" text-anchor="end">1000</text>
<text transform="translate(83.7,766.55) scale(1,1.035)" font-size="21.2" text-anchor="end">500</text>
<text transform="translate(83.7,787.05) scale(1,1.035)" font-size="21.2" text-anchor="end">0</text>
<text transform="translate(114,746.65) scale(1,1.05)" font-size="24.8" letter-spacing="-0.2" text-anchor="middle">vi</text>
<text transform="translate(1136.4,775.25) scale(1,1.035)" font-size="24.8"><tspan font-weight="bold">JKS551</tspan></text>
</g>
<g>
<path d="M90.0,862.0L90.0,847.0L94.0,848.0L98.0,845.7L102.0,846.1L106.0,847.0L109.0,846.4L112.0,846.6L115.0,847.9L118.0,847.9L121.0,847.1L124.0,847.5L127.0,846.7L130.0,846.9L133.0,844.4L136.0,844.9L140.0,846.7L143.0,847.0L146.0,847.2L149.0,847.3L152.0,848.0L155.0,847.6L158.0,847.5L161.0,846.6L164.0,847.0L167.0,845.3L170.0,847.4L173.0,846.3L176.0,847.2L179.0,846.1L182.0,847.2L186.0,845.0L190.0,847.9L193.0,846.3L196.0,847.3L199.0,846.0L202.0,846.3L205.0,846.3L208.0,846.1L212.0,846.0L216.0,848.2L219.0,849.8L222.0,850.7L225.0,851.0L228.0,852.0L228.0,862.0Z" fill="#ED1C24"/>
<path d="M304.0,862.0L304.0,852.0L308.0,850.5L312.0,849.5L316.0,847.1L320.0,846.2L324.0,847.0L328.0,846.2L332.0,845.6L337.0,843.6L342.0,844.8L345.0,846.1L348.0,846.0L351.0,847.0L354.0,847.4L357.0,847.1L360.0,847.0L363.0,847.3L366.0,846.3L369.0,846.5L372.0,847.2L375.0,845.8L378.0,846.2L382.0,846.9L385.0,846.7L388.0,847.3L391.0,845.6L394.0,847.0L397.0,846.8L400.0,845.9L403.0,847.2L406.0,847.0L410.0,847.6L415.0,845.0L420.0,846.7L423.0,847.5L426.0,846.6L429.0,848.5L432.0,847.1L435.0,848.0L438.0,848.0L441.0,848.0L444.0,846.1L448.0,845.5L451.0,846.3L454.0,846.3L457.0,847.3L460.0,845.7L463.0,847.3L466.0,846.3L469.0,847.1L472.0,845.9L475.0,847.1L478.0,845.4L481.0,846.3L484.0,847.4L487.0,846.5L490.0,845.7L494.0,845.6L498.0,846.1L502.0,846.2L506.0,846.3L509.0,848.6L512.0,849.6L515.0,852.7L518.0,855.9L521.2,859.0L523.0,856.1L525.0,854.8L530.0,856.1L535.0,855.3L538.0,856.0L540.5,858.2L540.5,862.0Z" fill="#ED1C24"/>
<path d="M874.0,862.0L874.0,862.0L878.0,861.0L881.0,859.5L884.0,857.5L887.0,857.9L889.0,856.2L890.5,853.2L892.2,844.1L893.7,854.3L895.0,857.9L897.0,860.5L899.0,861.0L901.0,859.0L903.0,858.1L906.0,859.5L910.0,862.0L910.0,862.0Z" fill="#ED1C24"/>
<path d="M948.0,862.0L948.0,862.0L952.0,860.5L956.0,858.8L960.0,856.3L963.0,855.2L964.8,842.7L966.2,830.7L967.6,843.8L969.5,855.3L972.0,854.9L975.0,853.9L980.0,855.2L983.0,854.5L986.0,855.6L990.0,852.5L995.0,850.1L998.0,849.1L1001.0,846.4L1006.0,846.6L1011.0,845.2L1015.0,846.0L1019.0,849.0L1023.0,850.0L1027.0,850.3L1030.0,852.4L1032.0,856.3L1034.2,861.0L1036.5,855.1L1039.0,849.5L1044.0,847.3L1047.0,847.0L1050.0,847.6L1053.0,845.8L1056.0,847.1L1059.0,847.2L1062.0,846.4L1065.0,846.8L1068.0,845.2L1071.0,847.4L1074.0,847.0L1077.0,846.9L1080.0,846.1L1083.0,846.7L1086.0,844.3L1090.0,845.3L1094.0,845.3L1098.0,846.0L1102.0,847.8L1105.0,848.2L1108.0,848.1L1111.0,847.0L1114.0,847.0L1118.0,845.7L1122.0,847.6L1124.7,847.9L1127.3,848.3L1127.3,862.0Z" fill="#ED1C24"/>
<path d="M97.2,822.10H90.7V862.00" fill="none" stroke="#111" stroke-width="1.7"/>
<path d="M90.7,841.90H97.2" stroke="#111" stroke-width="1.7"/>
<path d="M89.85,862.00H1128.7" stroke="#0d0d0d" stroke-width="1.7"/>
<path d="M229.00,843.80L265.60,827.40L303.10,843.80" fill="none" stroke="#0a0a0a" stroke-width="3.1" stroke-linejoin="miter" stroke-dasharray="3.500 6.369 7.000 6.369 7.000 6.369 7.000 6.643 7.000 6.643 7.000 6.643 3.500 0.000"/>
<path d="M541.30,843.70L717.50,827.00L895.30,843.20" fill="none" stroke="#0a0a0a" stroke-width="3.1" stroke-linejoin="miter" stroke-dasharray="3.500 6.615 7.000 6.615 7.000 6.615 7.000 6.615 7.000 6.615 7.000 6.615 7.000 6.615 7.000 6.615 7.000 6.615 7.000 6.615 7.000 6.615 7.000 6.615 7.000 6.615 7.000 6.734 7.000 6.734 7.000 6.734 7.000 6.734 7.000 6.734 7.000 6.734 7.000 6.734 7.000 6.734 7.000 6.734 7.000 6.734 7.000 6.734 7.000 6.734 7.000 6.734 3.500 0.000"/>
<path d="M837.2,862.00 C838,856.00 843,850.90 853,850.90 H887.5 C892,850.90 895,848.00 896.6,842.80 C898.2,848.00 901,850.90 905.5,850.90 H937 C948,850.90 955,857.00 957,862.00" fill="none" stroke="#0a0a0a" stroke-width="2.9" stroke-linejoin="round"/>
<path d="M229.00,827.10V862.60" stroke="#0a0a0a" stroke-width="2.9" fill="none"/>
<path d="M303.10,827.10V862.60" stroke="#0a0a0a" stroke-width="2.9" fill="none"/>
<path d="M541.30,827.10V862.60" stroke="#0a0a0a" stroke-width="2.9" fill="none"/>
<path d="M1107.20,827.50V862.60" stroke="#0a0a0a" stroke-width="2.4" fill="none"/>
<text transform="translate(83.7,827.30) scale(1,1.035)" font-size="21.2" text-anchor="end">1000</text>
<text transform="translate(83.7,847.30) scale(1,1.035)" font-size="21.2" text-anchor="end">500</text>
<text transform="translate(83.7,867.80) scale(1,1.035)" font-size="21.2" text-anchor="end">0</text>
<text transform="translate(114,827.40) scale(1,1.05)" font-size="24.8" letter-spacing="-0.2" text-anchor="middle">vii</text>
<text transform="translate(1136.4,856.00) scale(1,1.035)" font-size="24.8"><tspan font-weight="bold">JKS868</tspan></text>
</g>
<path d="M889.1,790.6H893.7V821.3L902.5,818.1L891.4,836.9L880.6,818.1L889.1,821.3Z" fill="#4076BA"/>
</svg>
</body>
</html>
